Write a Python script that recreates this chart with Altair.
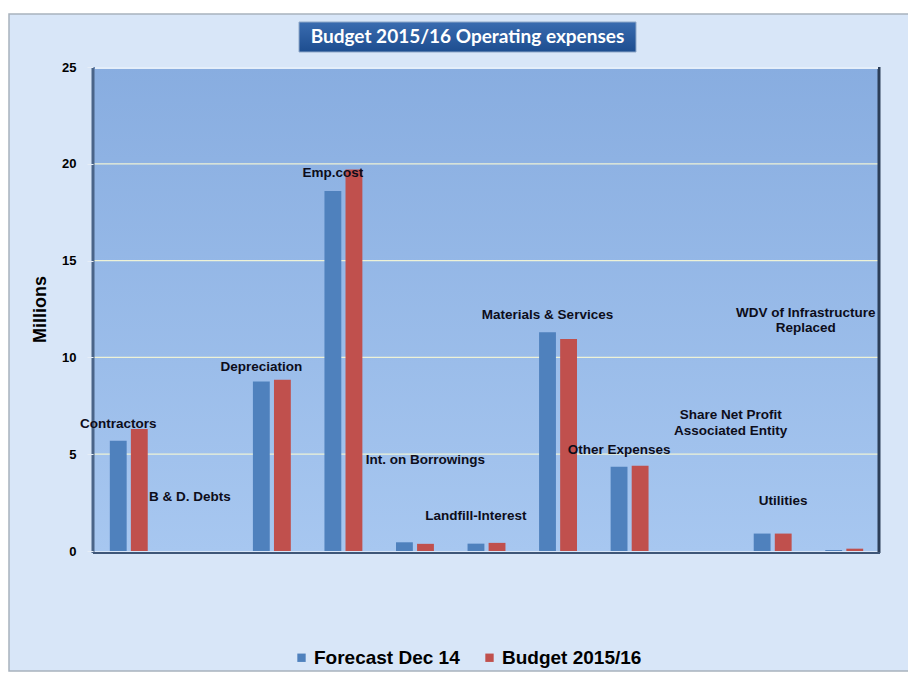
import altair as alt
import pandas as pd

categories = ["Contractors", "B & D. Debts", "Depreciation", "Emp.cost",
              "Int. on Borrowings", "Landfill-Interest", "Materials & Services",
              "Other Expenses", "Share Net Profit Associated Entity", "Utilities",
              "WDV of Infrastructure Replaced"]
series = ["Forecast Dec 14", "Budget 2015/16"]
forecast = [5.7, 0.0, 8.75, 18.6, 0.45, 0.38, 11.3, 4.35, 0.0, 0.9, 0.05]
budget = [6.3, 0.0, 8.85, 19.7, 0.37, 0.42, 10.95, 4.4, 0.0, 0.9, 0.12]
colors = ["#4f81bd", "#c0504d"]

label_text = ["Contractors", "B & D. Debts", "Depreciation", "Emp.cost",
              "Int. on Borrowings", "Landfill-Interest", "Materials & Services",
              "Other Expenses", "Share Net Profit\nAssociated Entity", "Utilities",
              "WDV of Infrastructure\nReplaced"]
label_y = [6.55, 2.78, 9.48, 19.5, 4.7, 1.8, 12.2, 5.2, 7.0, 2.6, 12.3]
label_anchor = ["Forecast Dec 14", "Forecast Dec 14", "Forecast Dec 14", "Forecast Dec 14",
                "Budget 2015/16", "Forecast Dec 14", "Forecast Dec 14", "Forecast Dec 14",
                "Budget 2015/16", "Budget 2015/16", "Forecast Dec 14"]
y_ticks = [0, 5, 10, 15, 20, 25]
grid_ticks = [5, 10, 15, 20]
title_text = "Budget 2015/16 Operating expenses"
y_title = "Millions"

W, H = 787, 484

rows = []
for c, f, b in zip(categories, forecast, budget):
    rows.append({"category": c, "series": series[0], "value": f})
    rows.append({"category": c, "series": series[1], "value": b})
bars_df = pd.DataFrame(rows)

labels_df = pd.DataFrame({"category": categories, "label": label_text,
                          "y": label_y, "series": label_anchor})
grid_df = pd.DataFrame({"v": grid_ticks})

one = alt.Data(values=[{}])

x_enc = alt.X("category:N", sort=categories,
              scale=alt.Scale(paddingInner=0.47, paddingOuter=0.235), axis=None)
xo_enc = alt.XOffset("series:N", sort=series, scale=alt.Scale(paddingInner=0.2))
y_scale = alt.Scale(domain=[0, 25], nice=False)

frame = alt.Chart(one).mark_rect(
    fill="#d8e6f8", stroke="#a8b2bd", strokeWidth=1.5
).encode(x=alt.value(-84), x2=alt.value(816), y=alt.value(-53), y2=alt.value(604))

plot_bg = alt.Chart(one).mark_rect(
    color=alt.LinearGradient(gradient="linear", x1=0, x2=0, y1=0, y2=1,
                             stops=[alt.GradientStop(color="#88ade0", offset=0),
                                    alt.GradientStop(color="#a7c7f0", offset=1)])
).encode(x=alt.value(0), x2=alt.value(W), y=alt.value(0), y2=alt.value(H))

grid = alt.Chart(grid_df).mark_rule(color="#eef2d6", strokeWidth=1.2).encode(
    x=alt.value(0), x2=alt.value(W), y=alt.Y("v:Q", scale=y_scale))

bars = alt.Chart(bars_df).mark_bar().encode(
    x=x_enc,
    xOffset=xo_enc,
    y=alt.Y("value:Q", scale=y_scale,
            axis=alt.Axis(values=y_ticks, title=y_title, grid=False, zindex=1)),
    color=alt.Color("series:N", sort=series,
                    scale=alt.Scale(domain=series, range=colors),
                    legend=alt.Legend(title=None, orient="none", legendX=199, legendY=581,
                                      direction="horizontal", symbolType="square",
                                      symbolSize=70, symbolStrokeWidth=0,
                                      labelFontSize=19, labelFont="Liberation Sans",
                                      labelFontWeight="bold", labelColor="#000000",
                                      columnPadding=20, labelOffset=3)),
)

left_wall = alt.Chart(one).mark_rule(color="#4a6488", strokeWidth=3).encode(
    x=alt.value(0), y=alt.value(0), y2=alt.value(H + 2))
right_wall = alt.Chart(one).mark_rule(color="#2c3e58", strokeWidth=3).encode(
    x=alt.value(W - 1), y=alt.value(0), y2=alt.value(H + 2))
floor = alt.Chart(one).mark_rule(color="#3e5678", strokeWidth=2).encode(
    x=alt.value(0), x2=alt.value(W), y=alt.value(H + 2))
top_edge = alt.Chart(one).mark_rule(color="#e4eefa", strokeWidth=2).encode(
    x=alt.value(2), x2=alt.value(W - 2), y=alt.value(1))

lab_base = alt.Chart(labels_df).mark_text(
    font="Liberation Sans", fontWeight="bold", fontSize=13.5, color="#0d0d1a",
    lineBreak="\n", baseline="middle", align="center")

labels_main = lab_base.transform_filter(
    alt.FieldOneOfPredicate(field="category", oneOf=categories[:8] + [categories[9]])
).encode(x=x_enc, xOffset=xo_enc, y=alt.Y("y:Q", scale=y_scale), text="label:N")

labels_share = alt.Chart(labels_df).mark_text(
    font="Liberation Sans", fontWeight="bold", fontSize=13.5, color="#0d0d1a",
    lineBreak="\n", baseline="middle", align="center", dx=19
).transform_filter(
    alt.FieldEqualPredicate(field="category", equal=categories[8])
).encode(x=x_enc, xOffset=xo_enc, y=alt.Y("y:Q", scale=y_scale), text="label:N")

labels_wdv = alt.Chart(labels_df).mark_text(
    font="Liberation Sans", fontWeight="bold", fontSize=13.5, color="#0d0d1a",
    lineBreak="\n", baseline="middle", align="center", dx=-28
).transform_filter(
    alt.FieldEqualPredicate(field="category", equal=categories[10])
).encode(x=x_enc, xOffset=xo_enc, y=alt.Y("y:Q", scale=y_scale), text="label:N")

title_box = alt.Chart(one).mark_rect(
    color=alt.LinearGradient(gradient="linear", x1=0, x2=0, y1=0, y2=1,
                             stops=[alt.GradientStop(color="#3a6cb0", offset=0),
                                    alt.GradientStop(color="#1d4d8f", offset=1)]),
    stroke="#8fa8c8", strokeWidth=1
).encode(x=alt.value(206), x2=alt.value(543), y=alt.value(-45), y2=alt.value(-15))

title_txt = alt.Chart(one).mark_text(
    text=title_text, font="Lato", fontWeight="bold", fontSize=19, color="#ffffff",
    align="center", baseline="middle"
).encode(x=alt.value(374.5), y=alt.value(-30))

chart = alt.layer(
    frame, plot_bg, grid, bars, left_wall, right_wall, floor, top_edge,
    labels_main, labels_share, labels_wdv, title_box, title_txt
).properties(
    width=W, height=H,
    padding={"left": 85, "top": 59, "right": 28, "bottom": 122},
    autosize=alt.AutoSizeParams(type="none"),
    background="#ffffff",
).configure_view(stroke=None).configure_axisY(
    domain=False, tickColor="#e6eef8",
    tickSize=6, labelPadding=11, labelFont="Liberation Sans", labelFontWeight="bold",
    labelFontSize=13, labelColor="#000000", titleFont="Liberation Sans",
    titleFontWeight="bold", titleFontSize=18, titleColor="#000000", titlePadding=12,
)

chart.save("out.html", embed_options={"renderer": "svg", "actions": False})
